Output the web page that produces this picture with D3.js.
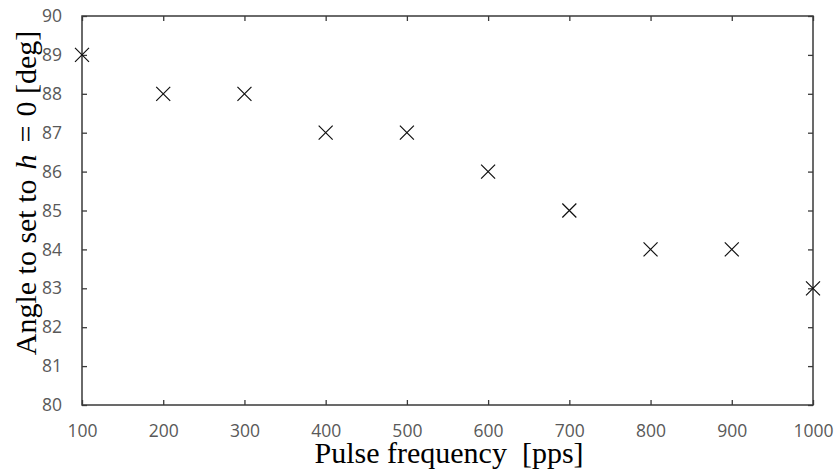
<!DOCTYPE html>
<html><head><meta charset="utf-8">
<script src="https://cdn.jsdelivr.net/npm/d3@7"></script>
<style>body{margin:0;background:#fff}svg{display:block}</style>
</head><body>
<script>
const freqs = [100,200,300,400,500,600,700,800,900,1000];
const angles = [89,88,88,87,87,86,85,84,84,83];
const xTicks = [100,200,300,400,500,600,700,800,900,1000];
const yTicks = [80,81,82,83,84,85,86,87,88,89,90];

const W=835,H=473;
const m={l:82,r:835-813,t:16,b:473-405};
const svg=d3.select("body").append("svg").attr("width",W).attr("height",H);
const x=d3.scaleLinear().domain([100,1000]).range([m.l,W-m.r]);
const y=d3.scaleLinear().domain([80,90]).range([H-m.b,m.t]);
const axisColor="#3a3a3a", labelColor="#595959";
const tickFont='"Open Sans", "Noto Sans", sans-serif';

function styleAxis(g, showText){
  g.select(".domain").remove();
  g.selectAll("line").attr("stroke",axisColor).attr("stroke-width",1.3);
  g.selectAll("text").attr("fill",labelColor).style("font-family",tickFont).style("font-size","17.5px");
  if(!showText) g.selectAll("text").remove();
}
// bottom
svg.append("g").attr("transform",`translate(0,${y(80)})`)
  .call(d3.axisBottom(x).tickValues(xTicks).tickSizeInner(-5).tickSizeOuter(0).tickPadding(20).tickFormat(d3.format("d")))
  .call(g=>styleAxis(g,true));
// top
svg.append("g").attr("transform",`translate(0,${y(90)})`)
  .call(d3.axisTop(x).tickValues(xTicks).tickSizeInner(-5).tickSizeOuter(0))
  .call(g=>styleAxis(g,false));
// left
svg.append("g").attr("transform",`translate(${x(100)},0)`)
  .call(d3.axisLeft(y).tickValues(yTicks).tickSizeInner(-5).tickSizeOuter(0).tickPadding(20).tickFormat(d3.format("d")))
  .call(g=>styleAxis(g,true));
// right
svg.append("g").attr("transform",`translate(${x(1000)},0)`)
  .call(d3.axisRight(y).tickValues(yTicks).tickSizeInner(-5).tickSizeOuter(0))
  .call(g=>styleAxis(g,false));
// frame
svg.append("rect").attr("x",x(100)).attr("y",y(90)).attr("width",x(1000)-x(100)).attr("height",y(80)-y(90))
  .attr("fill","none").attr("stroke",axisColor).attr("stroke-width",1.5);

// markers
const s=7;
svg.append("g").selectAll("path").data(freqs.map((f,i)=>[f,angles[i]])).join("path")
  .attr("d",d=>{const cx=x(d[0]),cy=y(d[1]);return `M${cx-s},${cy-s}L${cx+s},${cy+s}M${cx-s},${cy+s}L${cx+s},${cy-s}`;})
  .attr("stroke","#111").attr("stroke-width",1.2).attr("fill","none");

// titles
const serif='"Liberation Serif","Times New Roman",serif';
svg.append("text").attr("x",449).attr("y",463).attr("text-anchor","middle")
  .style("font-family",serif).style("font-size","30px").attr("fill","#000")
  .text("Pulse frequency\u00a0\u00a0[pps]");
const yt=svg.append("text").attr("transform",`translate(36,193) rotate(-90)`).attr("text-anchor","middle")
  .style("font-family",serif).style("font-size","30px").attr("fill","#000");
yt.append("tspan").text("Angle to set to");
yt.append("tspan").attr("dx",10).style("font-style","italic").text("h");
yt.append("tspan").attr("dx",12).text("=");
yt.append("tspan").attr("dx",9).text("0 [deg]");
</script>
</body></html>
